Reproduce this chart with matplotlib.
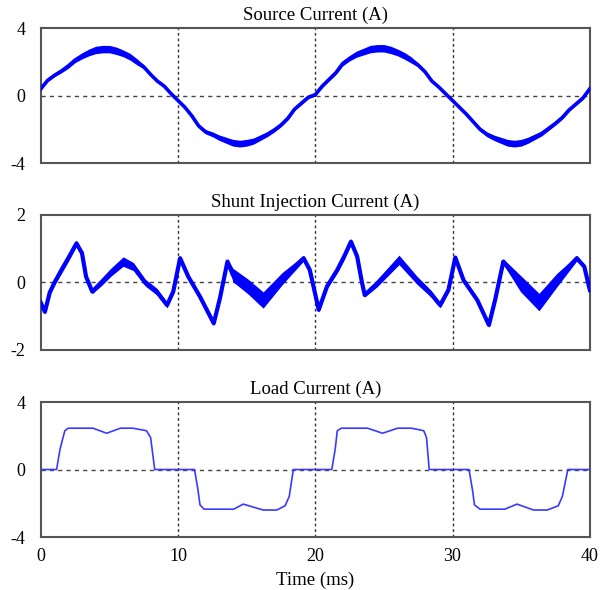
import matplotlib
matplotlib.use('Agg')
import matplotlib.pyplot as plt
import numpy as np

# Source current, sampled every 0.5 ms from 0 to 40 ms
src_t = [i * 0.5 for i in range(81)]
src_i = [0.4, 0.9, 1.2, 1.45, 1.75, 2.1, 2.35, 2.55, 2.7, 2.75,
         2.75, 2.65, 2.5, 2.3, 2.0, 1.7, 1.25, 0.85, 0.55, 0.1,
         -0.3, -0.7, -1.2, -1.8, -2.15, -2.3, -2.5, -2.65, -2.8, -2.85,
         -2.8, -2.7, -2.5, -2.3, -2.05, -1.75, -1.35, -0.8, -0.45, -0.1,
         0.05, 0.55, 0.95, 1.35, 1.9, 2.2, 2.45, 2.6, 2.75, 2.8,
         2.8, 2.7, 2.55, 2.35, 2.1, 1.8, 1.4, 0.85, 0.5, 0.1,
         -0.3, -0.7, -1.1, -1.55, -2.0, -2.3, -2.5, -2.65, -2.8, -2.85,
         -2.8, -2.65, -2.45, -2.25, -1.95, -1.65, -1.3, -0.85, -0.5, -0.15,
         0.4]
# half-width of the noise band around the source current
src_band = [0.08, 0.08, 0.08, 0.1, 0.14, 0.15, 0.18, 0.2, 0.22, 0.22,
            0.22, 0.22, 0.2, 0.2, 0.18, 0.12, 0.1, 0.08, 0.08, 0.08,
            0.08, 0.08, 0.08, 0.1, 0.12, 0.14, 0.16, 0.18, 0.2, 0.2,
            0.2, 0.18, 0.16, 0.14, 0.12, 0.1, 0.1, 0.08, 0.08, 0.08,
            0.08, 0.08, 0.08, 0.1, 0.14, 0.15, 0.18, 0.2, 0.22, 0.22,
            0.22, 0.22, 0.2, 0.2, 0.18, 0.12, 0.1, 0.08, 0.08, 0.08,
            0.08, 0.08, 0.08, 0.1, 0.12, 0.14, 0.16, 0.18, 0.2, 0.2,
            0.2, 0.18, 0.16, 0.14, 0.12, 0.1, 0.1, 0.08, 0.08, 0.08,
            0.08]

# Shunt injection current (key points)
sh_t = [0, 0.3, 0.65, 1.0, 1.5, 2.0, 2.6, 3.0, 3.3, 3.75, 4.4, 5.15, 6.0, 6.75,
        7.6, 8.45, 9.2, 9.65, 10.15, 10.75, 11.6, 12.6, 13.05, 13.6, 14.0,
        15.1, 16.2, 17.6, 19.15, 19.6,
        20.25, 20.85, 21.6, 22.1, 22.6, 23.05, 23.4, 23.6, 24.5, 26.1, 27.4,
        28.4, 29.1, 29.7, 30.2, 30.8, 31.8, 32.65, 33.1, 33.7, 34.95,
        36.3, 37.6, 39.05, 39.6, 40]
sh_i = [-0.6, -0.87, -0.3, 0.0, 0.37, 0.72, 1.16, 0.87, 0.17, -0.27, 0.0, 0.32, 0.62, 0.47,
        0.0, -0.27, -0.67, -0.27, 0.72, 0.17, -0.42, -1.21, -0.47, 0.62, 0.22,
        -0.12, -0.52, 0.12, 0.72, 0.37,
        -0.81, -0.12, 0.37, 0.77, 1.21, 0.77, 0.0, -0.37, -0.03, 0.67, 0.07,
        -0.32, -0.67, -0.22, 0.74, 0.07, -0.52, -1.26, -0.52, 0.62, -0.03,
        -0.58, 0.07, 0.72, 0.47, -0.22]
# half-width of the noise band around the shunt current
sh_band = [0.06, 0.06, 0.06, 0.08, 0.1, 0.1, 0.08, 0.06, 0.06, 0.06, 0.1, 0.12, 0.14, 0.12,
           0.1, 0.1, 0.08, 0.06, 0.06, 0.06, 0.06, 0.06, 0.06, 0.08, 0.2,
           0.22, 0.24, 0.18, 0.08, 0.06,
           0.06, 0.06, 0.08, 0.1, 0.08, 0.06, 0.06, 0.06, 0.1, 0.14, 0.12,
           0.1, 0.08, 0.06, 0.06, 0.06, 0.06, 0.06, 0.06, 0.08, 0.24,
           0.26, 0.2, 0.08, 0.06, 0.06]

# Load current (key points)
ld_t = [0, 1.15, 1.4, 1.75, 2.0, 3.8, 4.8, 5.8, 6.7, 7.7, 8.0, 8.3,
        11.2, 11.45, 11.6, 11.9, 14.05, 14.75, 16.2, 17.2, 17.8, 18.1, 18.4,
        21.2, 21.45, 21.6, 21.9, 23.8, 24.9, 26.0, 27.0, 27.9, 28.1, 28.3,
        31.2, 31.45, 31.6, 32.0, 33.8, 34.7, 35.9, 36.9, 37.7, 38.0, 38.4, 40]
ld_i = [0, 0, 1.2, 2.3, 2.45, 2.45, 2.15, 2.45, 2.45, 2.3, 1.9, 0,
        0, -1.2, -2.1, -2.35, -2.35, -2.05, -2.4, -2.4, -2.15, -1.6, 0,
        0, 1.2, 2.3, 2.45, 2.45, 2.15, 2.45, 2.45, 2.3, 1.9, 0,
        0, -1.2, -2.1, -2.35, -2.35, -2.05, -2.4, -2.4, -2.15, -1.6, 0, 0]

titles = ['Source Current (A)', 'Shunt Injection Current (A)', 'Load Current (A)']
ylims = [4, 2, 4]
x_ticks = [0, 10, 20, 30, 40]

plt.rcParams['font.family'] = ['Liberation Serif', 'DejaVu Serif']
plt.rcParams['axes.unicode_minus'] = False

fig = plt.figure(figsize=(6, 5.9), dpi=100)
boxes = [[0.068, 0.7237, 0.915, 0.2288],
         [0.068, 0.4068, 0.915, 0.2288],
         [0.068, 0.0898, 0.915, 0.2288]]
series = [(src_t, src_i, src_band, 2.6, '#0000ff'),
          (sh_t, sh_i, sh_band, 3.0, '#0000ff'),
          (ld_t, ld_i, None, 1.2, '#3a3aff')]

for k, box in enumerate(boxes):
    ax = fig.add_axes(box)
    t, v, band, lw, col = series[k]
    if band is not None:
        lo = np.array(v) - np.array(band)
        hi = np.array(v) + np.array(band)
        ax.fill_between(t, lo, hi, color=col, lw=0, zorder=3)
    ax.plot(t, v, color=col, lw=lw, zorder=3, solid_joinstyle='round')
    lim = ylims[k]
    ax.set_xlim(0, 40)
    ax.set_ylim(-lim, lim)
    ax.set_yticks([-lim, 0, lim])
    ax.set_yticklabels([str(-lim), '0', str(lim)])
    ax.set_xticks(x_ticks)
    for xv in [10, 20, 30]:
        ax.axvline(xv, color='#333333', lw=1, ls=(0, (2, 2)), zorder=1)
    ax.axhline(0, color='#444444', lw=1, ls=(0, (3, 3)), zorder=1)
    ax.tick_params(axis='y', length=0, labelsize=13, pad=11)
    ax.tick_params(axis='x', length=0, labelsize=13, pad=8)
    for s in ax.spines.values():
        s.set_color('#555555')
        s.set_linewidth(1.5)
    ax.set_title(titles[k], fontsize=13.5, pad=6)
    if k < 2:
        ax.set_xticklabels([])
    else:
        ax.set_xlabel('Time (ms)', fontsize=13.5, labelpad=5)

plt.savefig('out.png', dpi=100)
